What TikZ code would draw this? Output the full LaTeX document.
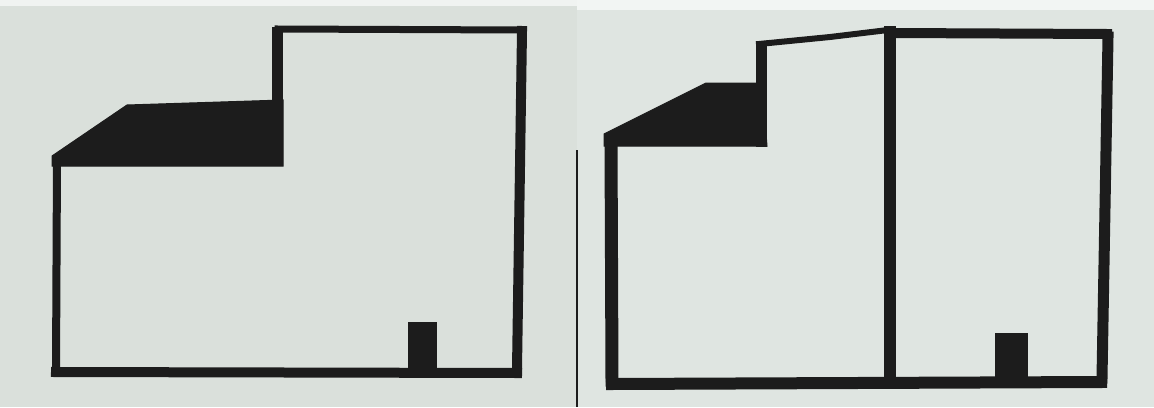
\documentclass[tikz,border=0pt]{standalone}
\begin{document}
\begin{tikzpicture}[x=1pt,y=-1pt,
  wall/.style={draw=ink,line cap=rect,line join=miter},
  solid fill/.style={fill=ink,draw=ink,line width=1pt,line join=miter}]
\definecolor{ink}{RGB}{28,28,28}
\definecolor{paperL}{RGB}{218,224,219}
\definecolor{paperR}{RGB}{223,229,225}
\useasboundingbox (0,0) rectangle (1154,407);
% paper
\fill[paperL] (0,0) rectangle (577,407);
\fill[paperR] (577,0) rectangle (1154,407);
\fill[white!60!paperL] (0,0) rectangle (577,6);
\fill[white!60!paperR] (577,0) rectangle (1154,10);
\fill[ink] (575.5,150) rectangle (577.5,407);

% ---------- left plan ----------
\fill[solid fill] (52,156) -- (127,105) -- (283,100) -- (283,166) -- (52,166) -- cycle;
\draw[wall,line width=8pt] (57,160) -- (56,370);
\draw[wall,line width=10pt] (56,372) -- (517,373);
\draw[wall,line width=10pt] (517,369) -- (522,31);
\draw[wall,line width=7pt] (522,30) -- (278,29);
\draw[wall,line width=11pt] (277,32) -- (277,160);
\fill[solid fill] (408,322) rectangle (436,372);

% ---------- right plan ----------
\fill[solid fill] (604,134) -- (706,83) -- (762,83) -- (767,146) -- (604,146) -- cycle;
\draw[wall,line width=13pt] (611,140) -- (612,380);
\draw[wall,line width=12pt] (612,384) -- (1101,382);
\draw[wall,line width=11pt] (1102,378) -- (1108,37);
\draw[wall,line width=10pt] (1107,34) -- (893,33);
\draw[wall,line width=12pt] (890,32) -- (890,378);
\draw[wall,line width=6pt] (759,44) -- (830,37) -- (888,30);
\draw[wall,line width=11pt] (761,46) -- (761,141);
\fill[solid fill] (995,333) rectangle (1027,382);
\end{tikzpicture}
\end{document}
